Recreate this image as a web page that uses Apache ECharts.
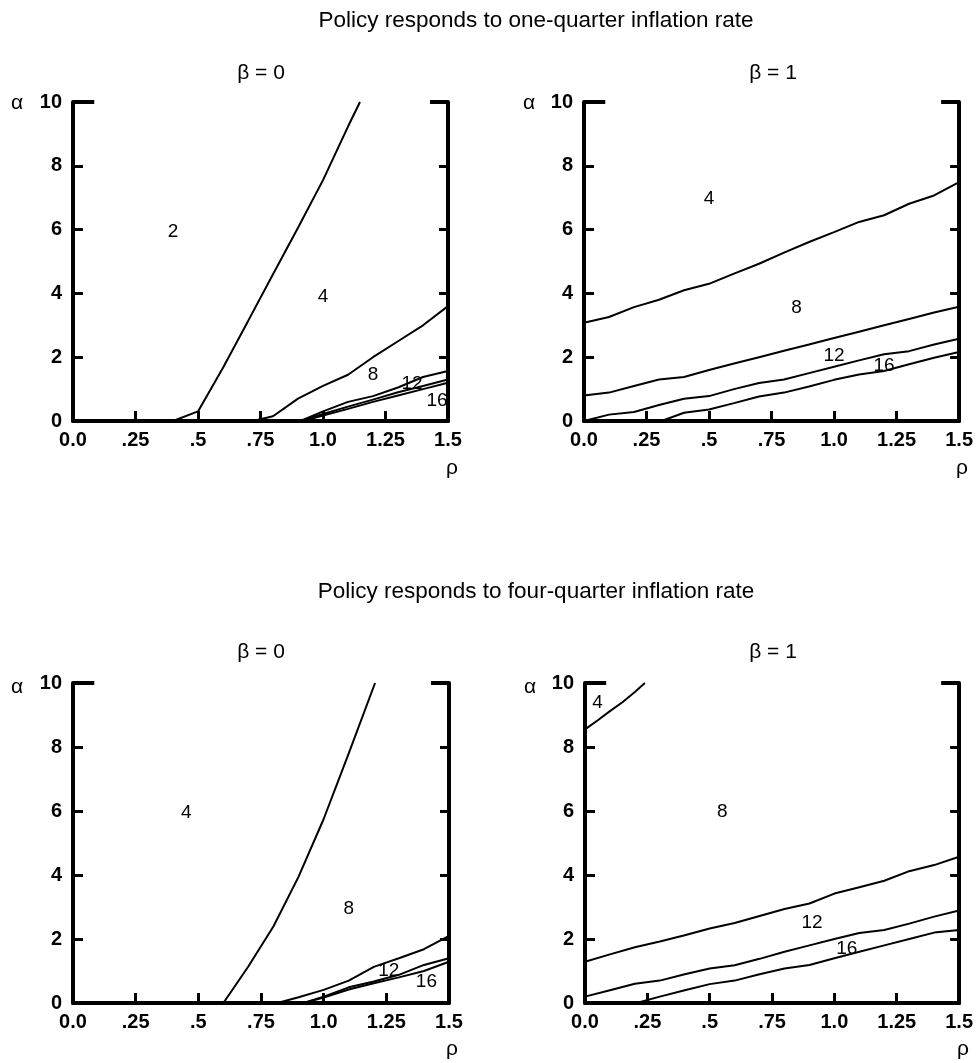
<!DOCTYPE html>
<html>
<head>
<meta charset="utf-8">
<script src="https://cdn.jsdelivr.net/npm/echarts@6/dist/echarts.min.js"></script>
<style>
html,body{margin:0;padding:0;background:#fff;}
#chart{width:976px;height:1063px;}
</style>
</head>
<body>
<div id="chart"></div>
<script>
// ---- tick labels ----
var xTickLabels = ['0.0', '.25', '.5', '.75', '1.0', '1.25', '1.5'];
var yTickLabels = ['0', '2', '4', '6', '8', '10'];

// ---- Panel A: one-quarter, beta = 0 ----
var a_2_4   = [[0.40,0],[0.50,0.3],[0.60,1.67],[0.70,3.13],[0.80,4.6],[0.90,6.06],[1.00,7.55],[1.10,9.23],[1.148,10]];
var a_4_8   = [[0.72,0],[0.80,0.15],[0.90,0.7],[1.00,1.1],[1.10,1.45],[1.20,2.0],[1.30,2.5],[1.40,3.0],[1.50,3.6]];
var a_8_12  = [[0.91,0],[1.00,0.3],[1.10,0.6],[1.20,0.78],[1.30,1.05],[1.40,1.38],[1.50,1.57]];
var a_12_16 = [[0.91,0],[1.00,0.22],[1.10,0.45],[1.20,0.67],[1.30,0.9],[1.40,1.1],[1.50,1.3]];
var a_16    = [[0.92,0],[1.00,0.17],[1.10,0.38],[1.20,0.6],[1.30,0.8],[1.40,1.0],[1.50,1.2]];
var a_labels = [[0.40,5.92,'2'],[1.00,3.89,'4'],[1.20,1.44,'8'],[1.356,1.16,'12'],[1.456,0.63,'16']];

// ---- Panel B: one-quarter, beta = 1 ----
var b_4_8   = [[0,3.08],[0.1,3.26],[0.2,3.57],[0.3,3.8],[0.4,4.1],[0.5,4.3],[0.6,4.62],[0.7,4.93],[0.8,5.28],[0.9,5.61],[1.0,5.92],[1.1,6.24],[1.2,6.45],[1.3,6.81],[1.4,7.07],[1.5,7.49]];
var b_8_12  = [[0,0.8],[0.1,0.89],[0.2,1.1],[0.3,1.3],[0.4,1.38],[0.5,1.6],[0.6,1.8],[0.7,2.0],[0.8,2.2],[0.9,2.4],[1.0,2.6],[1.1,2.8],[1.2,3.0],[1.3,3.2],[1.4,3.4],[1.5,3.58]];
var b_12_16 = [[0,0],[0.1,0.2],[0.2,0.28],[0.3,0.5],[0.4,0.7],[0.5,0.78],[0.6,1.0],[0.7,1.19],[0.8,1.3],[0.9,1.5],[1.0,1.7],[1.1,1.9],[1.2,2.09],[1.3,2.19],[1.4,2.4],[1.5,2.58]];
var b_16    = [[0.31,0],[0.4,0.26],[0.5,0.36],[0.6,0.56],[0.7,0.77],[0.8,0.89],[0.9,1.08],[1.0,1.29],[1.1,1.46],[1.2,1.57],[1.3,1.78],[1.4,1.98],[1.5,2.16]];
var b_labels = [[0.50,6.97,'4'],[0.85,3.54,'8'],[1.00,2.06,'12'],[1.20,1.72,'16']];

// ---- Panel C: four-quarter, beta = 0 ----
var c_4_8   = [[0.6,0],[0.7,1.15],[0.8,2.4],[0.9,3.95],[1.0,5.75],[1.1,7.8],[1.205,10]];
var c_8_12  = [[0.815,0],[0.9,0.18],[1.0,0.41],[1.1,0.7],[1.2,1.13],[1.3,1.4],[1.4,1.68],[1.5,2.1]];
var c_12_16 = [[0.92,0],[1.0,0.2],[1.1,0.49],[1.2,0.67],[1.3,0.88],[1.4,1.19],[1.5,1.4]];
var c_16    = [[0.92,0],[1.0,0.17],[1.1,0.42],[1.2,0.62],[1.3,0.8],[1.4,1.0],[1.5,1.29]];
var c_labels = [[0.452,5.93,'4'],[1.10,2.95,'8'],[1.26,1.01,'12'],[1.41,0.65,'16']];

// ---- Panel D: four-quarter, beta = 1 ----
var d_4_8   = [[0,8.55],[0.05,8.83],[0.1,9.12],[0.15,9.4],[0.2,9.72],[0.24,10]];
var d_8_12  = [[0,1.29],[0.1,1.52],[0.2,1.74],[0.3,1.92],[0.4,2.12],[0.5,2.33],[0.6,2.5],[0.7,2.72],[0.8,2.94],[0.9,3.11],[1.0,3.42],[1.1,3.62],[1.2,3.82],[1.3,4.12],[1.4,4.31],[1.5,4.57]];
var d_12_16 = [[0,0.2],[0.1,0.4],[0.2,0.6],[0.3,0.7],[0.4,0.9],[0.5,1.08],[0.6,1.18],[0.7,1.38],[0.8,1.6],[0.9,1.8],[1.0,2.0],[1.1,2.19],[1.2,2.28],[1.3,2.48],[1.4,2.7],[1.5,2.89]];
var d_16    = [[0.207,0],[0.3,0.2],[0.4,0.4],[0.5,0.59],[0.6,0.7],[0.7,0.9],[0.8,1.08],[0.9,1.19],[1.0,1.4],[1.1,1.6],[1.2,1.8],[1.3,2.0],[1.4,2.2],[1.5,2.28]];
var d_labels = [[0.05,9.37,'4'],[0.55,5.97,'8'],[0.91,2.5,'12'],[1.05,1.68,'16']];

var panels = [
  {grid:{left:73, top:102, width:375, height:319}, curves:[a_2_4,a_4_8,a_8_12,a_12_16,a_16], labels:a_labels},
  {grid:{left:584, top:102, width:376, height:319}, curves:[b_4_8,b_8_12,b_12_16,b_16], labels:b_labels},
  {grid:{left:73, top:683, width:376, height:320}, curves:[c_4_8,c_8_12,c_12_16,c_16], labels:c_labels},
  {grid:{left:585, top:683, width:375, height:320}, curves:[d_4_8,d_8_12,d_12_16,d_16], labels:d_labels}
];

var FONT = '"Liberation Sans", Arial, Helvetica, sans-serif';
var grids = [], xAxes = [], yAxes = [], series = [];

panels.forEach(function (p, i) {
  grids.push(p.grid);
  xAxes.push({
    type:'value', gridIndex:i, min:0, max:1.5, interval:0.25,
    axisLine:{show:true, onZero:false, lineStyle:{color:'#000', width:4}},
    axisTick:{show:true, inside:true, length:10, lineStyle:{color:'#000', width:3}},
    axisLabel:{show:true, margin:9, color:'#000', fontFamily:FONT, fontSize:20, fontWeight:'bold',
      formatter:function (v) { return xTickLabels[Math.round(v / 0.25)]; }},
    splitLine:{show:false}
  });
  yAxes.push({
    type:'value', gridIndex:i, min:0, max:10, interval:2, position:'left',
    axisLine:{show:true, onZero:false, lineStyle:{color:'#000', width:4}},
    axisTick:{show:true, inside:true, length:10, lineStyle:{color:'#000', width:3}},
    axisLabel:{show:true, margin:11, color:'#000', fontFamily:FONT, fontSize:20, fontWeight:'bold',
      formatter:function (v) { return yTickLabels[Math.round(v / 2)]; }},
    splitLine:{show:false}
  });
  yAxes.push({
    type:'value', gridIndex:i, min:0, max:10, interval:2, position:'right',
    axisLine:{show:true, onZero:false, lineStyle:{color:'#000', width:4}},
    axisTick:{show:true, inside:true, length:9, lineStyle:{color:'#000', width:3}},
    axisLabel:{show:false},
    splitLine:{show:false}
  });
  p.curves.forEach(function (c, k) {
    var s = {
      type:'line', xAxisIndex:i, yAxisIndex:2 * i, data:c,
      showSymbol:false, symbol:'none', clip:true, silent:true,
      lineStyle:{color:'#000', width:2}
    };
    if (k === 0) {
      s.markLine = {
        silent:true, symbol:['none','none'], label:{show:false},
        lineStyle:{color:'#000', width:4, type:'solid'},
        data:[
          [{coord:[0,10]},{coord:[0.085,10]}],
          [{coord:[1.428,10]},{coord:[1.5,10]}]
        ]
      };
    }
    series.push(s);
  });
  series.push({
    type:'scatter', xAxisIndex:i, yAxisIndex:2 * i, data:p.labels,
    symbolSize:1, itemStyle:{color:'rgba(0,0,0,0)', opacity:1}, silent:true,
    label:{show:true, position:'inside', color:'#000', opacity:1, fontFamily:FONT, fontSize:19,
      formatter:function (d) { return d.data[2]; }}
  });
});

function txt(t, x, y, size) {
  return {type:'text', x:x, y:y, silent:true,
    style:{text:t, fill:'#000', font:size + 'px ' + FONT, align:'center', verticalAlign:'middle'}};
}

var graphics = [
  txt('Policy responds to one-quarter inflation rate', 536, 21, 22.5),
  txt('Policy responds to four-quarter inflation rate', 536, 592, 22.5),
  txt('\u03b2 = 0', 261, 73, 21),
  txt('\u03b2 = 1', 773, 73, 21),
  txt('\u03b2 = 0', 261, 652, 21),
  txt('\u03b2 = 1', 773, 652, 21),
  txt('\u03b1', 17, 103, 21),
  txt('\u03b1', 529, 103, 21),
  txt('\u03b1', 17, 687, 21),
  txt('\u03b1', 530, 687, 21),
  txt('\u03c1', 452, 468, 21),
  txt('\u03c1', 962, 468, 21),
  txt('\u03c1', 452, 1049, 21),
  txt('\u03c1', 963, 1049, 21)
];

var chart = echarts.init(document.getElementById('chart'), null, {renderer:'canvas'});
chart.setOption({
  animation:false,
  backgroundColor:'#fff',
  grid:grids, xAxis:xAxes, yAxis:yAxes, series:series,
  graphic:graphics
});
</script>
</body>
</html>
